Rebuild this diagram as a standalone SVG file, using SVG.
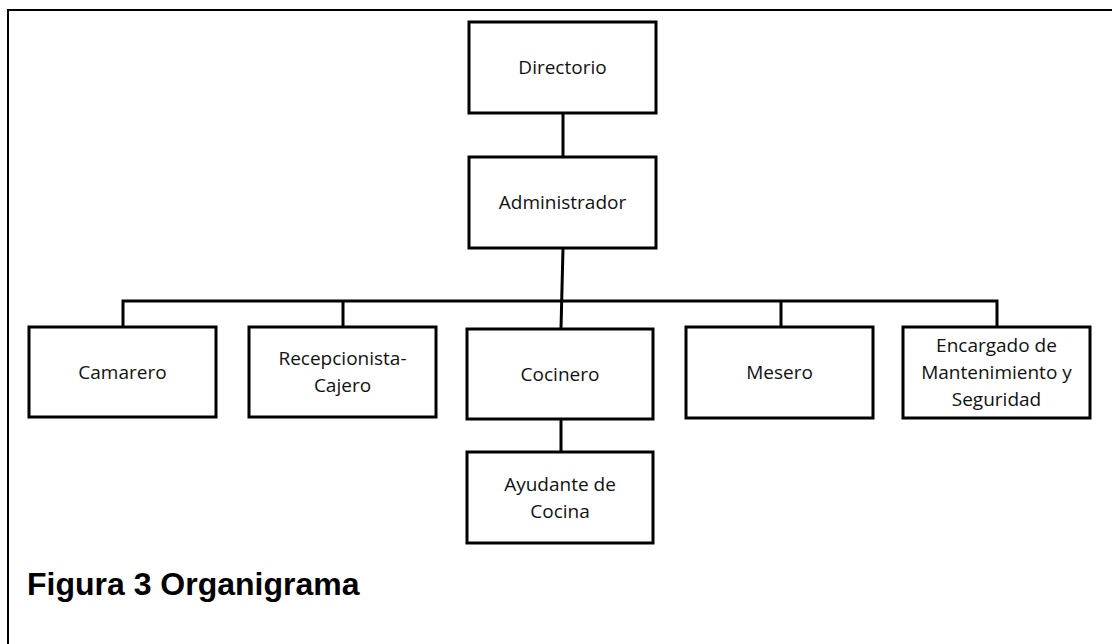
<svg xmlns="http://www.w3.org/2000/svg" width="1112" height="644" viewBox="0 0 1112 644">
  <style>
    .box { fill: #fff; stroke: #000; stroke-width: 3; }
    .link { fill: none; stroke: #000; stroke-width: 3; }
    .lbl { font-family: "Open Sans", "Liberation Sans", sans-serif; font-size: 19px; fill: #111; text-anchor: middle; }
    .title { font-family: "Liberation Sans", Arial, sans-serif; font-size: 32px; font-weight: bold; fill: #000; }
  </style>
  <rect width="1112" height="644" fill="#fff"/>
  <!-- page frame -->
  <path d="M8,644 V10 H1112" fill="none" stroke="#000" stroke-width="2"/>

  <g id="connectors">
    <line class="link" x1="563" y1="113" x2="563" y2="157"/>
    <line class="link" x1="563" y1="248" x2="561" y2="329"/>
    <path class="link" d="M123,327 V301 H997 V327"/>
    <line class="link" x1="343" y1="301" x2="343" y2="327"/>
    <line class="link" x1="781" y1="301" x2="781" y2="327"/>
    <line class="link" x1="561" y1="419" x2="561" y2="452"/>
  </g>

  <g id="directorio">
    <rect class="box" x="469" y="22" width="187" height="91"/>
    <text class="lbl" x="562.5" y="74">Directorio</text>
  </g>
  <g id="administrador">
    <rect class="box" x="469" y="157" width="187" height="91"/>
    <text class="lbl" x="562.5" y="209">Administrador</text>
  </g>
  <g id="camarero">
    <rect class="box" x="29" y="327" width="187" height="90"/>
    <text class="lbl" x="122.5" y="379">Camarero</text>
  </g>
  <g id="recepcionista">
    <rect class="box" x="249" y="327" width="187" height="90"/>
    <text class="lbl" x="342.5" y="365">Recepcionista-</text>
    <text class="lbl" x="342.5" y="392">Cajero</text>
  </g>
  <g id="cocinero">
    <rect class="box" x="467" y="329" width="186" height="90"/>
    <text class="lbl" x="560" y="381">Cocinero</text>
  </g>
  <g id="mesero">
    <rect class="box" x="686" y="327" width="187" height="91"/>
    <text class="lbl" x="779.5" y="379">Mesero</text>
  </g>
  <g id="encargado">
    <rect class="box" x="903" y="327" width="187" height="91"/>
    <text class="lbl" x="996.5" y="352">Encargado de</text>
    <text class="lbl" x="996.5" y="379">Mantenimiento y</text>
    <text class="lbl" x="996.5" y="406">Seguridad</text>
  </g>
  <g id="ayudante">
    <rect class="box" x="467" y="452" width="186" height="91"/>
    <text class="lbl" x="560" y="491">Ayudante de</text>
    <text class="lbl" x="560" y="518">Cocina</text>
  </g>

  <text class="title" x="27" y="595">Figura 3 Organigrama</text>
</svg>
